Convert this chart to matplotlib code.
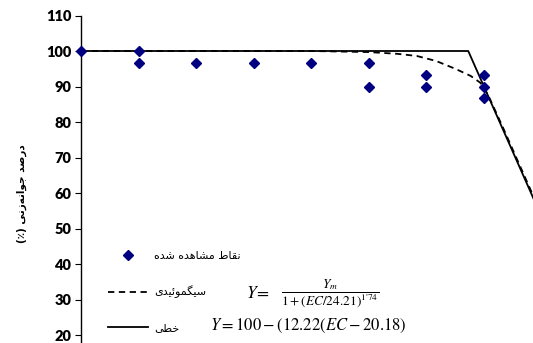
import matplotlib
matplotlib.use("Agg")
from matplotlib import pyplot as plt

# observed germination (%) at each EC level
ec_obs = [0, 3, 3, 6, 9, 12, 15, 15, 18, 18, 21, 21, 21]
germ_obs = [100, 100, 96.7, 96.7, 96.7, 96.7, 96.7, 90, 93.3, 90, 93.3, 90, 86.7]

# sigmoid fit
ec_sig = [0, 12, 15, 16.5, 17.5, 18.5, 19.5, 20.3, 20.8, 21.0, 21.3, 22, 23, 24]
germ_sig = [100, 100, 99.7, 99.2, 98.6, 97.2, 95.0, 93.0, 91.1, 89.6, 86.6, 78.3, 66.1, 53.9]

# linear (segmented) fit
ec_lin = [0, 20.18, 24]
germ_lin = [100, 100, 53.3]

y_ticks = [20, 30, 40, 50, 60, 70, 80, 90, 100, 110]

# Arabic presentation forms: isolated, final, initial, medial
FORMS = {
    'ا': (0xFE8D, 0xFE8E, None, None),
    'ج': (0xFE9D, 0xFE9E, 0xFE9F, 0xFEA0),
    'خ': (0xFEA5, 0xFEA6, 0xFEA7, 0xFEA8),
    'د': (0xFEA9, 0xFEAA, None, None),
    'ر': (0xFEAD, 0xFEAE, None, None),
    'ز': (0xFEAF, 0xFEB0, None, None),
    'س': (0xFEB1, 0xFEB2, 0xFEB3, 0xFEB4),
    'ش': (0xFEB5, 0xFEB6, 0xFEB7, 0xFEB8),
    'ص': (0xFEB9, 0xFEBA, 0xFEBB, 0xFEBC),
    'ط': (0xFEC1, 0xFEC2, 0xFEC3, 0xFEC4),
    'ق': (0xFED5, 0xFED6, 0xFED7, 0xFED8),
    'م': (0xFEE1, 0xFEE2, 0xFEE3, 0xFEE4),
    'ن': (0xFEE5, 0xFEE6, 0xFEE7, 0xFEE8),
    'ه': (0xFEE9, 0xFEEA, 0xFEEB, 0xFEEC),
    'و': (0xFEED, 0xFEEE, None, None),
    'ئ': (0xFE89, 0xFE8A, 0xFE8B, 0xFE8C),
    'ی': (0xFEEF, 0xFEF0, 0xFEF3, 0xFEF4),
    'گ': (0xFB92, 0xFB93, 0xFB94, 0xFB95),
}


def shape(text):
    out = []
    for i, c in enumerate(text):
        if c not in FORMS:
            out.append(c)
            continue
        prev = text[i - 1] if i > 0 else None
        nxt = text[i + 1] if i + 1 < len(text) else None
        join_prev = prev in FORMS and FORMS[prev][2] is not None
        join_next = nxt in FORMS and FORMS[c][2] is not None
        iso, fin, ini, med = FORMS[c]
        if join_prev and join_next:
            code = med
        elif join_prev:
            code = fin
        elif join_next:
            code = ini
        else:
            code = iso
        out.append(chr(code))
    return ''.join(reversed(out)).replace('\u200c', '')


plt.rcParams['mathtext.fontset'] = 'stix'

fig = plt.figure(figsize=(5.33, 3.43), dpi=100)
ax = fig.add_axes([81 / 533, -0.1837, 1.0801, 1.1385])

ax.plot(ec_lin, germ_lin, color='black', lw=1.3, label=shape('خطی'))
ax.plot(ec_sig, germ_sig, color='black', lw=1.3, dashes=(3.5, 2.5), label=shape('سیگموئیدی'))
ax.plot(ec_obs, germ_obs, ls='none', marker='D', ms=5.2, color='#000080',
        label=shape('نقاط مشاهده شده'), zorder=3, clip_on=False)

ax.set_xlim(0, 30)
ax.set_ylim(0, 110)
ax.set_yticks(y_ticks)
ax.set_xticks([])
for side in ['top', 'right', 'bottom']:
    ax.spines[side].set_visible(False)
ax.spines['left'].set_linewidth(1.0)
ax.tick_params(axis='y', direction='out', length=4, width=0.8, pad=3)
for lbl in ax.get_yticklabels():
    lbl.set_fontfamily('Lato')
    lbl.set_fontweight('heavy')
    lbl.set_fontsize(10.5)

ax.set_ylabel('(٪) ' + shape('درصد جوانه‌زنی'), fontsize=7.5, family='DejaVu Sans',
              fontweight='bold')
ax.yaxis.set_label_coords(-0.094, 0.543)

handles, labels = ax.get_legend_handles_labels()
order = [2, 1, 0]
ax.legend([handles[i] for i in order], [labels[i] for i in order],
          loc='upper left', bbox_to_anchor=(102 / 533, 1 - 245 / 343),
          bbox_transform=fig.transFigure, frameon=False, borderpad=0,
          fontsize=8, handlelength=3.6, handletextpad=0.6, labelspacing=2.25,
          numpoints=1)

fig.text(246 / 533, 1 - 298 / 343, r"$Y\!=$", fontsize=12.5, va='baseline', ha='left')
fig.text(281 / 533, 1 - 293 / 343, r"$\dfrac{Y_m}{1+(EC/24.21)^{1\text{'}74}}$",
         fontsize=9.6, va='center', ha='left')
fig.text(210 / 533, 1 - 330 / 343, r"$Y = 100 - (12.22(EC - 20.18)$",
         fontsize=12, va='baseline', ha='left')

fig.savefig('out.png', dpi=100)
